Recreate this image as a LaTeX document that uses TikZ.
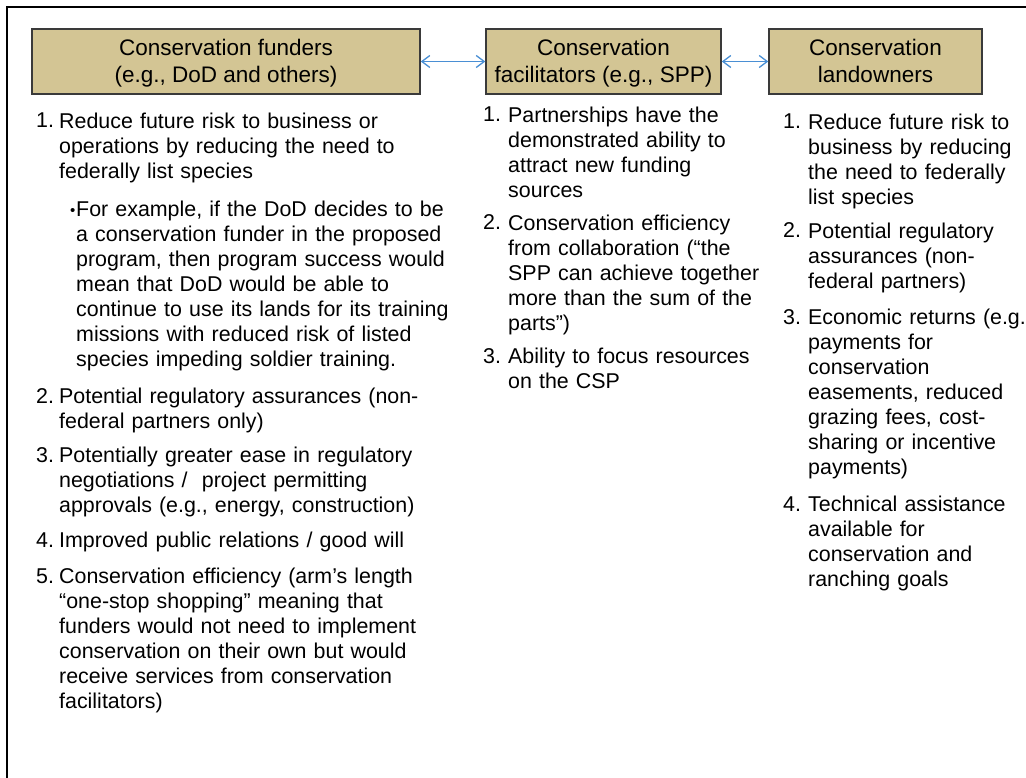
\documentclass[tikz,border=0pt]{standalone}
\usepackage{fontspec}
\setmainfont{Liberation Sans}
\usetikzlibrary{arrows.meta}
\definecolor{boxfill}{HTML}{D3C594}
\definecolor{boxline}{HTML}{3A3A3A}
\definecolor{arrowblue}{HTML}{4A8FD4}
\newcommand\bodyfnt{\fontsize{21.4}{25}\selectfont\parindent=0pt\relax}
\newcommand\titlefnt{\fontsize{22.5}{27}\selectfont}
\begin{document}
\begin{tikzpicture}[x=1pt,y=-1pt,
  header/.style={draw=boxline, line width=1.5pt, fill=boxfill,
    inner sep=0pt, minimum height=65pt},
  headtext/.style={align=center, font=\titlefnt, inner sep=0pt},
  numlbl/.style={anchor=base west, inner sep=0pt, font=\bodyfnt},
  bulletlbl/.style={anchor=base west, inner sep=0pt, font=\fontsize{15}{18}\selectfont},
  listtext/.style={anchor=north west, inner sep=0pt, font=\bodyfnt,
    text width=460pt, align=left},
  link/.style={draw=arrowblue, line width=1.3pt,
    {Straight Barb[length=8pt,width=12pt]}-{Straight Barb[length=8pt,width=12pt]}}
]
\useasboundingbox (0,0) rectangle (1026,778);
\clip (0,0) rectangle (1026,778);
\draw[line width=2pt] (7,7) rectangle (1040,792);

% headers
\node[header, minimum width=388pt] (h1) at (226,61.5) {};
\node[header, minimum width=235pt] (h2) at (603.5,61.5) {};
\node[header, minimum width=213pt] (h3) at (875.5,61.5) {};
\node[headtext] (h1t) at ([yshift=-2.6pt]h1.center) {\strut Conservation funders\\\strut (e.g., DoD and others)};
\node[headtext] (h2t) at ([yshift=-2.6pt]h2.center) {\strut Conservation\\\strut facilitators (e.g., SPP)};
\node[headtext] (h3t) at ([yshift=-2.6pt]h3.center) {\strut Conservation\\\strut landowners};
\draw[link] (h1.east) -- (h2.west);
\draw[link] (h2.east) -- (h3.west);

% column 1
\node[numlbl] (a1n) at (36,128) {1.};
\node[listtext] (a1) at (59,110.5) {\strut Reduce future risk to business or\\operations by reducing the need to\\federally list species};
\node[bulletlbl] (a1bn) at (70,216) {•};
\node[listtext] (a1b) at (76,198.5) {\strut For example, if the DoD decides to be\\a conservation funder in the proposed\\program, then program success would\\mean that DoD would be able to\\continue to use its lands for its training\\missions with reduced risk of listed\\species impeding soldier training.};
\node[numlbl] (a2n) at (36,403) {2.};
\node[listtext] (a2) at (59,385.5) {\strut Potential regulatory assurances (non-\\federal partners only)};
\node[numlbl] (a3n) at (36,462) {3.};
\node[listtext] (a3) at (59,444.5) {\strut Potentially greater ease in regulatory\\negotiations /\ \ project permitting\\approvals (e.g., energy, construction)};
\node[numlbl] (a4n) at (36,547) {4.};
\node[listtext] (a4) at (59,529.5) {\strut Improved public relations / good will};
\node[numlbl] (a5n) at (36,583) {5.};
\node[listtext] (a5) at (59,565.5) {\strut Conservation efficiency (arm’s length\\“one-stop shopping” meaning that\\funders would not need to implement\\conservation on their own but would\\receive services from conservation\\facilitators)};

% column 2
\node[numlbl] (b1n) at (483,122) {1.};
\node[listtext] (b1) at (508,104.5) {\strut Partnerships have the\\demonstrated ability to\\attract new funding\\sources};
\node[numlbl] (b2n) at (483,230) {2.};
\node[listtext] (b2) at (508,212.5) {\strut Conservation efficiency\\from collaboration (“the\\SPP can achieve together\\more than the sum of the\\parts”)};
\node[numlbl] (b3n) at (483,363) {3.};
\node[listtext] (b3) at (508,345.5) {\strut Ability to focus resources\\on the CSP};

% column 3
\node[numlbl] (c1n) at (783,129) {1.};
\node[listtext] (c1) at (808,111.5) {\strut Reduce future risk to\\business by reducing\\the need to federally\\list species};
\node[numlbl] (c2n) at (783,238) {2.};
\node[listtext] (c2) at (808,220.5) {\strut Potential regulatory\\assurances (non-\\federal partners)};
\node[numlbl] (c3n) at (783,324) {3.};
\node[listtext] (c3) at (808,306.5) {\strut Economic returns (e.g.\\payments for\\conservation\\easements, reduced\\grazing fees, cost-\\sharing or incentive\\payments)};
\node[numlbl] (c4n) at (783,511) {4.};
\node[listtext] (c4) at (808,493.5) {\strut Technical assistance\\available for\\conservation and\\ranching goals};
\end{tikzpicture}
\end{document}
